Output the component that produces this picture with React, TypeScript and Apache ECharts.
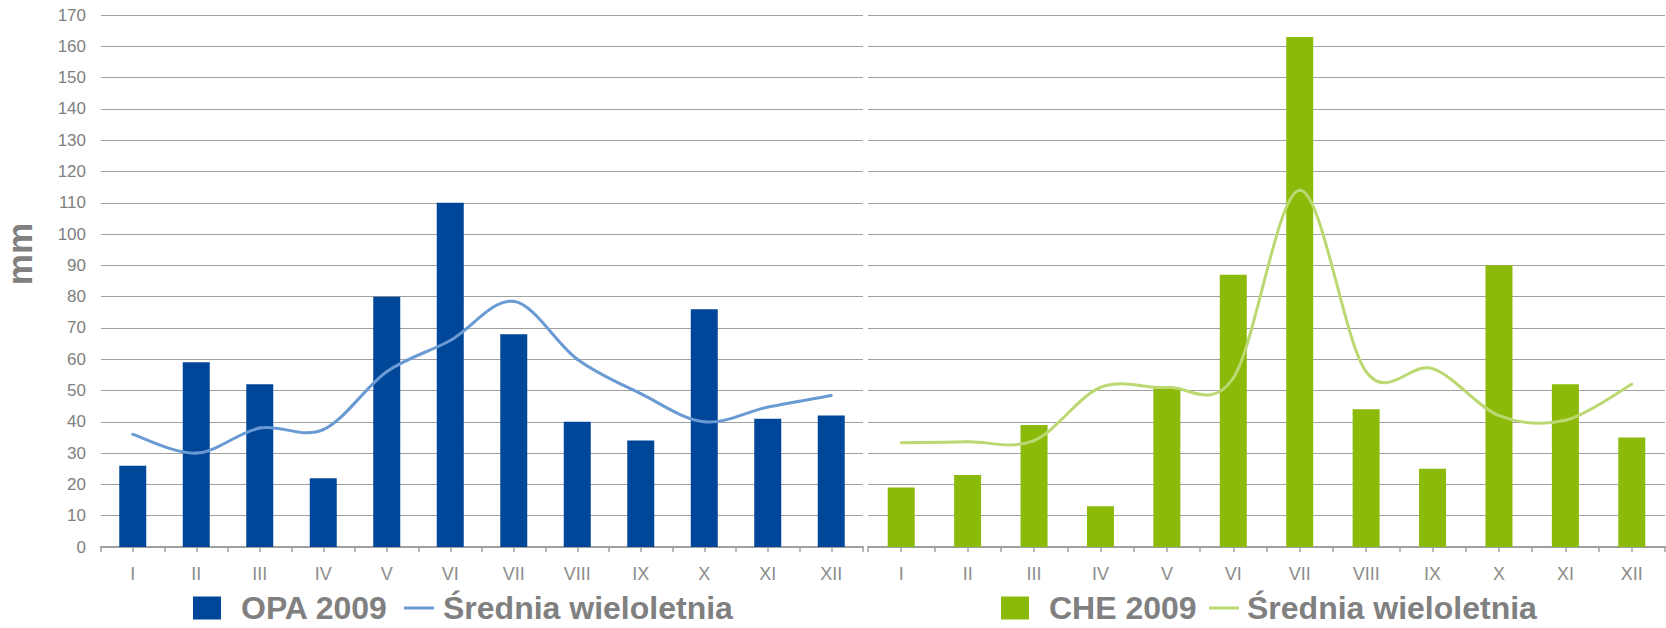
import React, { useEffect, useRef } from "react";
import * as echarts from "echarts";

const months = ["I", "II", "III", "IV", "V", "VI", "VII", "VIII", "IX", "X", "XI", "XII"];
const opa2009 = [26, 59, 52, 22, 80, 110, 68, 40, 34, 76, 41, 42];
const opaAvg = [36, 30, 38, 37.5, 56, 66, 78.5, 60, 49, 40, 44.7, 48.4];
const che2009 = [19, 23, 39, 13, 51, 87, 163, 44, 25, 90, 52, 35];
const cheAvg = [33.3, 33.6, 34, 51, 51, 54, 114, 56, 57, 42, 40.5, 52];
const yMin = 0;
const yMax = 170;
const yStep = 10;

const OPA_BAR = "OPA 2009";
const OPA_LINE = "Średnia wieloletnia (OPA)";
const CHE_BAR = "CHE 2009";
const CHE_LINE = "Średnia wieloletnia (CHE)";

const FONT = "'Liberation Sans', Arial, sans-serif";
const GRAY = "#808080";

// Excel-like smoothed line (Catmull-Rom through the data points, via the axis scales)
function smoothLine(values: number[], color: string) {
  return (params: any, api: any) => {
    if (params.dataIndexInside !== 0) return { type: "group", children: [] };
    const pts = values.map((v, i) => api.coord([i, v]));
    const children: any[] = [];
    for (let i = 0; i < pts.length - 1; i++) {
      const p0 = pts[i - 1] || pts[i];
      const p1 = pts[i];
      const p2 = pts[i + 1];
      const p3 = pts[i + 2] || pts[i + 1];
      children.push({
        type: "bezierCurve",
        silent: true,
        shape: {
          x1: p1[0],
          y1: p1[1],
          cpx1: p1[0] + (p2[0] - p0[0]) / 6,
          cpy1: p1[1] + (p2[1] - p0[1]) / 6,
          cpx2: p2[0] - (p3[0] - p1[0]) / 6,
          cpy2: p2[1] - (p3[1] - p1[1]) / 6,
          x2: p2[0],
          y2: p2[1],
        },
        style: { stroke: color, lineWidth: 3, fill: "none", lineCap: "round" },
      });
    }
    return { type: "group", children };
  };
}

export default function App() {
  const ref = useRef<HTMLDivElement>(null);

  useEffect(() => {
    if (!ref.current) return;
    const chart = echarts.init(ref.current, undefined, { renderer: "svg" });

    const mainX = (gridIndex: number) => ({
      type: "category",
      gridIndex,
      data: months,
      position: "bottom",
      boundaryGap: true,
      axisLine: { show: true, lineStyle: { color: "#a0a0a0", width: 2 } },
      axisTick: { show: true, interval: 0, length: 5, lineStyle: { color: "#a0a0a0", width: 1.5 } },
      axisLabel: { show: true, interval: 0, margin: 18, fontSize: 18, color: "#8c8c8c", fontFamily: FONT },
      splitLine: { show: false },
    });
    const tickX = (gridIndex: number) => ({
      type: "category",
      gridIndex,
      data: months,
      position: "bottom",
      offset: 0,
      boundaryGap: true,
      axisLine: { show: false },
      axisTick: { show: true, alignWithLabel: true, interval: 0, length: 5, lineStyle: { color: "#a0a0a0", width: 1.5 } },
      axisLabel: { show: false },
      splitLine: { show: false },
    });
    const yAx = (gridIndex: number, showLabels: boolean) => ({
      type: "value",
      gridIndex,
      min: yMin,
      max: yMax,
      interval: yStep,
      axisLine: { show: false },
      axisTick: { show: false },
      axisLabel: { show: showLabels, margin: 15, fontSize: 17, color: GRAY, fontFamily: FONT },
      splitLine: { show: true, lineStyle: { color: "#a0a0a0", width: 1 } },
    });

    const legendText = { fontSize: 32, lineHeight: 30, fontWeight: "bold", color: GRAY, fontFamily: FONT };
    const fmt = (name: string) => (name.startsWith("Średnia") ? "Średnia wieloletnia" : name);
    const leg = (name: string, left: number, w: number, h: number, gap: number) => ({
      data: [name],
      left,
      top: 592,
      padding: 0,
      icon: "rect",
      itemWidth: w,
      itemHeight: h,
      textStyle: { ...legendText, padding: [0, 0, 0, gap] },
      formatter: fmt,
      selectedMode: false,
    });

    chart.setOption({
      animation: false,
      backgroundColor: "#ffffff",
      grid: [
        { left: 101, right: 1666 - 863, top: 15, bottom: 81, containLabel: false },
        { left: 868, right: 1, top: 15, bottom: 81, containLabel: false },
      ],
      xAxis: [mainX(0), tickX(0), mainX(1), tickX(1)],
      yAxis: [yAx(0, true), yAx(1, false)],
      legend: [
        leg(OPA_BAR, 193, 28, 23, 15),
        leg(OPA_LINE, 404, 30, 3, 4),
        leg(CHE_BAR, 1001, 28, 23, 15),
        leg(CHE_LINE, 1209, 30, 3, 3),
      ],
      graphic: [
        {
          type: "text",
          x: 19,
          y: 254,
          rotation: Math.PI / 2,
          style: {
            text: "mm",
            fontSize: 35,
            fontWeight: "bold",
            fontFamily: FONT,
            fill: GRAY,
            align: "center",
            verticalAlign: "middle",
          },
        },
      ],
      series: [
        {
          name: OPA_BAR, type: "bar", xAxisIndex: 0, yAxisIndex: 0, data: opa2009,
          barWidth: 27, itemStyle: { color: "#00479a" },
        },
        {
          name: OPA_LINE, type: "custom", coordinateSystem: "cartesian2d", xAxisIndex: 0, yAxisIndex: 0,
          data: opaAvg.map((v, i) => [i, v]), encode: { x: 0, y: 1 },
          renderItem: smoothLine(opaAvg, "#6a9ad3"), itemStyle: { color: "#6a9ad3" }, z: 3,
        },
        {
          name: CHE_BAR, type: "bar", xAxisIndex: 2, yAxisIndex: 1, data: che2009,
          barWidth: 27, itemStyle: { color: "#8bba0a" },
        },
        {
          name: CHE_LINE, type: "custom", coordinateSystem: "cartesian2d", xAxisIndex: 2, yAxisIndex: 1,
          data: cheAvg.map((v, i) => [i, v]), encode: { x: 0, y: 1 },
          renderItem: smoothLine(cheAvg, "#bcd872"), itemStyle: { color: "#bcd872" }, z: 3,
        },
      ],
    });

    return () => chart.dispose();
  }, []);

  return (
    <div
      ref={ref}
      style={{ position: "absolute", left: 0, top: 0, width: 1666, height: 628, background: "#fff" }}
    />
  );
}
